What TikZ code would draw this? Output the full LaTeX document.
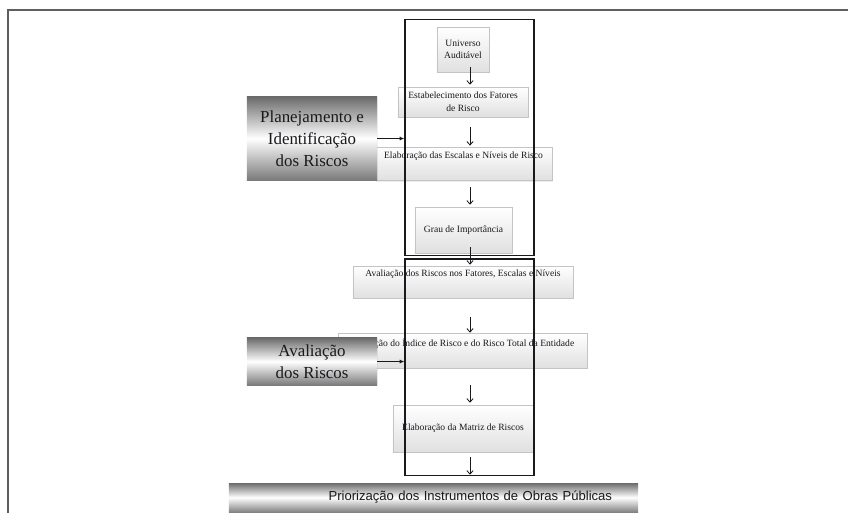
\documentclass[tikz,border=0pt]{standalone}
\usepackage{fontspec}
\setmainfont{Liberation Serif}
\newfontfamily\barfont{Liberation Sans}
\usetikzlibrary{arrows.meta,positioning,shadows,calc}
\definecolor{ink}{RGB}{25,25,30}
\definecolor{rim}{RGB}{95,95,95}
\definecolor{pale}{RGB}{224,224,224}
\definecolor{edge}{RGB}{196,196,196}
\definecolor{steel}{RGB}{108,108,108}
\tikzset{
  stage/.style={draw=edge,top color=white,bottom color=pale,align=center,inner sep=1pt,
    font=\fontsize{6.8}{9}\selectfont,text=ink,
    drop shadow={opacity=0.15,shadow xshift=1pt,shadow yshift=-1pt}},
  toptext/.style={inner ysep=0pt,text depth=0.54cm},
  phase/.style={top color=steel,bottom color=steel!90,middle color=white,align=center,
    minimum width=3.25cm,font=\fontsize{12}{15.5}\selectfont,text=ink,
    drop shadow={opacity=0.12,shadow xshift=1pt,shadow yshift=-1pt}},
  banner/.style={top color=steel,bottom color=steel!85,middle color=white,
    minimum width=10.225cm,minimum height=0.725cm,text width=8.925cm,align=right,
    font=\barfont\fontsize{9.3}{10}\selectfont,text=ink},
  frame/.style={draw=ink,line width=0.75pt,inner sep=0pt,minimum width=3.225cm},
  flow/.style={-{Straight Barb[length=2.5pt,width=4.5pt]},draw=ink,line width=0.6pt},
  link/.style={-{Latex[length=3.5pt,width=3pt]},draw=ink,line width=0.8pt},
}
\begin{document}
\begin{tikzpicture}[x=0.025cm,y=-0.025cm]
  \useasboundingbox (0,0) rectangle (848,513);
  % page frame
  \draw[rim,line width=1.2pt] (8,513) -- (8,10) -- (848,10);
  % steps
  \node[stage,minimum width=1.3cm,minimum height=1.125cm] (uni) at (463,49.5) {Universo\\Auditável};
  \node[stage,minimum width=3.25cm,minimum height=0.75cm] (fat) at (463,102) {Estabelecimento dos Fatores\\de Risco};
  \node[stage,toptext,text height=0.29cm,minimum width=4.425cm] (esc) at (463.5,163.5) {Elaboração das Escalas e Níveis de Risco};
  \node[stage,minimum width=2.425cm,minimum height=1.15cm] (imp) at (463.5,230) {Grau de Importância};
  \node[stage,toptext,text height=0.2625cm,minimum width=5.5cm] (ava) at (463,282) {Avaliação dos Riscos nos Fatores, Escalas e Níveis};
  \node[stage,toptext,text height=0.3375cm,minimum width=6.225cm] (ind) at (462.5,350.5) {Apuração do Índice de Risco e do Risco Total da Entidade};
  \node[stage,minimum width=3.5cm,minimum height=1.175cm] (mat) at (463,428.5) {Elaboração da Matriz de Riscos};
  \node[banner] (prio) at (433.5,497.5) {Priorização dos Instrumentos de Obras Públicas};
  % phases
  \node[phase,minimum height=2.075cm] (plan) at (312,138.5) {Planejamento e\\Identificação\\dos Riscos};
  \node[phase,minimum height=1.175cm] (aval) at (312,361.5) {Avaliação\\dos Riscos};
  \node[frame,minimum height=5.875cm] (upper) at (469.5,137.5) {};
  \node[frame,minimum height=5.4cm] (lower) at (469.5,367) {};
  \coordinate (spine) at (470,0);
  % arrows
  \draw[flow,shorten <=-0.125cm,shorten >=0.05cm] (uni.south -| spine) -- (fat.north -| spine);
  \draw[flow,shorten <=0.25cm,shorten >=0.025cm] (fat.south -| spine) -- (esc.north -| spine);
  \draw[flow,shorten <=0.175cm,shorten >=0.05cm] (esc.south -| spine) -- (imp.north -| spine);
  \draw[flow,shorten <=-0.15cm,shorten >=0.025cm] (imp.south -| spine) -- (ava.north -| spine);
  \draw[flow,shorten <=0.475cm] (ava.south -| spine) -- (ind.north -| spine);
  \draw[flow,shorten <=0.425cm,shorten >=0.05cm] (ind.south -| spine) -- (mat.north -| spine);
  \draw[flow,shorten <=0.125cm,shorten >=0.2cm] (mat.south -| spine) -- (prio.north -| spine);
  \draw[link] (plan.east) -- (plan.east -| upper.west);
  \draw[link] (aval.east) -- (aval.east -| lower.west);
\end{tikzpicture}
\end{document}
